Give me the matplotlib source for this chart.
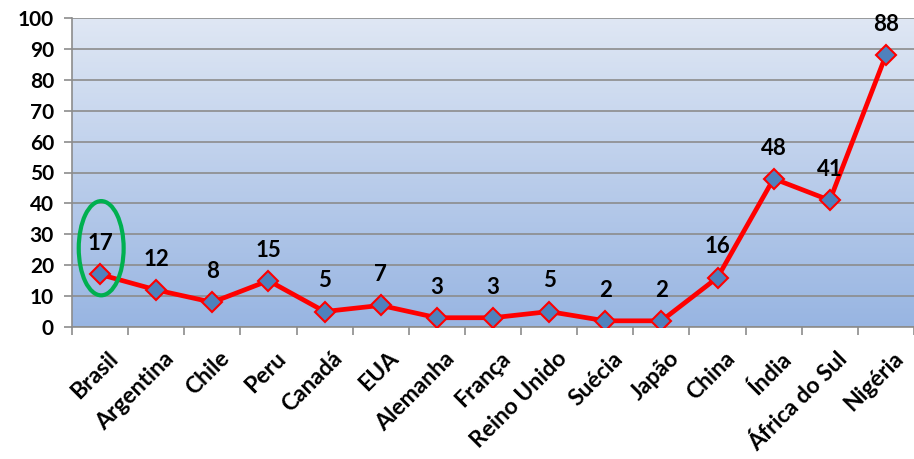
import numpy as np
import matplotlib.pyplot as plt
from matplotlib.patches import Ellipse

#region DATA

paises = ["Brasil", "Argentina", "Chile", "Peru", "Canadá", "EUA", "Alemanha", "França",
          "Reino Unido", "Suécia", "Japão", "China", "Índia", "África do Sul", "Nigéria"]
valores = [17, 12, 8, 15, 5, 7, 3, 3, 5, 2, 2, 16, 48, 41, 88]
yticks = list(range(0, 101, 10))

#endregion

#region PLOT

plt.rcParams['font.family'] = ['Lato', 'DejaVu Sans']
fig = plt.figure(figsize=(9.14, 4.59), dpi=100)
ax = fig.add_axes([72/914, 1 - 327/459, (914 - 72)/914, (327 - 18)/459])

x = np.arange(len(paises))
ax.set_xlim(-0.5, len(paises) - 0.5)
ax.set_ylim(0, 100)

# gradient background
top = np.array([0.875, 0.906, 0.957])
bottom = np.array([0.596, 0.710, 0.886])
t = np.linspace(0, 1, 256)[:, None]
grad = (top * (1 - t) + bottom * t)[:, None, :]
ax.imshow(grad, extent=[-0.5, len(paises) - 0.5, 0, 100], aspect='auto', zorder=0)

for v in yticks:
    ax.axhline(v, color="#8c8c8c", linewidth=1.2, zorder=1)

ax.plot(x, valores, color="red", linewidth=3.4, zorder=3,
        marker="D", markersize=10, markerfacecolor="#4F81BD",
        markeredgecolor="red", markeredgewidth=1.5)

for xi, v in zip(x, valores):
    ax.text(xi, v + 6.5, str(v), ha="center", va="bottom", fontsize=16,
            fontweight="bold", zorder=4)

ax.add_patch(Ellipse((0.02, 25.5), 0.8, 30.5, fill=False, edgecolor="#00B050",
                     linewidth=3, zorder=5))

ax.set_yticks(yticks)
ax.set_yticklabels([str(v) for v in yticks], fontsize=15, fontweight="bold")
ax.set_xticks(np.arange(len(paises) + 1) - 0.5, minor=False)
ax.set_xticklabels([])
ax.tick_params(axis="x", length=6, color="#8c8c8c", width=1.2)
ax.tick_params(axis="y", length=6, color="#8c8c8c", width=1.2, pad=7)
ax.set_xticks(x + 0.12, minor=True)
ax.set_xticklabels(paises, minor=True, rotation=45, ha="right", rotation_mode="anchor",
                   fontsize=16.5, fontweight="bold")
ax.tick_params(axis="x", which="minor", length=0, pad=15)

for s in ["top", "right"]:
    ax.spines[s].set_visible(False)
for s in ["left", "bottom"]:
    ax.spines[s].set_color("#8c8c8c")
    ax.spines[s].set_linewidth(1.2)

fig.savefig("out.png", dpi=100)

#endregion
